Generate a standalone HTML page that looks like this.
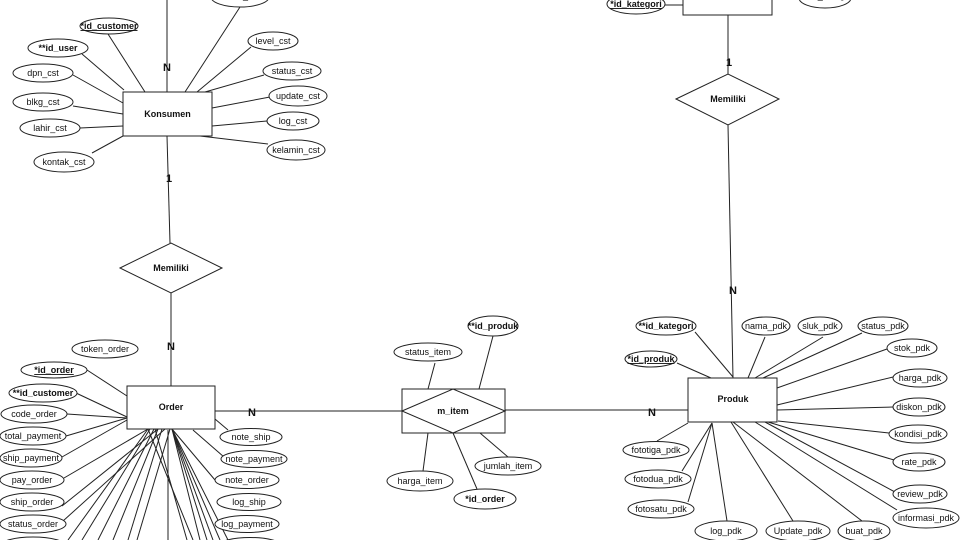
<!DOCTYPE html>
<html><head><meta charset="utf-8"><style>
html,body{margin:0;padding:0;background:#fff;}
svg{display:block;}
text{font-family:"Liberation Sans",Arial,sans-serif;font-size:9px;fill:#111;text-anchor:middle;}
.b{font-weight:bold;}
.u{text-decoration:underline;}
.c{font-size:11px;font-weight:bold;}
line,polyline{stroke:#222;stroke-width:1;fill:none;}
ellipse,rect,polygon{stroke:#222;stroke-width:1;fill:#fff;}
</style></head><body>
<svg width="960" height="540" viewBox="0 0 960 540" xmlns="http://www.w3.org/2000/svg">
<g>
<line x1="167" y1="0" x2="167" y2="92"/>
<line x1="167" y1="136" x2="170" y2="243"/>
<line x1="108" y1="34" x2="145" y2="92"/>
<line x1="82" y1="54" x2="124" y2="90"/>
<line x1="73" y1="75" x2="123" y2="103"/>
<line x1="73" y1="106" x2="123" y2="114"/>
<line x1="80" y1="128" x2="123" y2="126"/>
<line x1="92" y1="153" x2="123" y2="136"/>
<line x1="240" y1="7" x2="185" y2="92"/>
<line x1="251" y1="47" x2="197" y2="92"/>
<line x1="264" y1="75" x2="205" y2="92"/>
<line x1="270" y1="97" x2="212" y2="108"/>
<line x1="267" y1="121" x2="212" y2="126"/>
<line x1="268" y1="144" x2="200" y2="136"/>
<line x1="171" y1="293" x2="171" y2="386"/>
<line x1="215" y1="411" x2="402" y2="411"/>
<line x1="505" y1="410" x2="689" y2="410"/>
<line x1="87" y1="370" x2="127" y2="396"/>
<line x1="76" y1="393" x2="127" y2="417"/>
<line x1="67" y1="414" x2="127" y2="418"/>
<line x1="66" y1="436" x2="127" y2="418"/>
<line x1="62" y1="457" x2="127" y2="420"/>
<line x1="64" y1="478" x2="148" y2="429"/>
<line x1="62" y1="506" x2="158" y2="429"/>
<line x1="63" y1="521" x2="165" y2="429"/>
<line x1="148" y1="429" x2="68" y2="540"/>
<line x1="150" y1="429" x2="82" y2="540"/>
<line x1="154" y1="429" x2="98" y2="540"/>
<line x1="158" y1="429" x2="113" y2="540"/>
<line x1="162" y1="429" x2="128" y2="540"/>
<line x1="170" y1="429" x2="137" y2="540"/>
<line x1="148" y1="429" x2="193" y2="540"/>
<line x1="155" y1="429" x2="187" y2="540"/>
<line x1="168" y1="430" x2="168" y2="540"/>
<line x1="172" y1="429" x2="200" y2="540"/>
<line x1="172" y1="429" x2="207" y2="540"/>
<line x1="172" y1="429" x2="213" y2="540"/>
<line x1="172" y1="429" x2="220" y2="540"/>
<line x1="172" y1="429" x2="215" y2="480"/>
<line x1="172" y1="429" x2="228" y2="540"/>
<line x1="215" y1="419" x2="228" y2="430"/>
<line x1="193" y1="430" x2="224" y2="457"/>
<line x1="435" y1="363" x2="428" y2="389"/>
<line x1="493" y1="336" x2="479" y2="389"/>
<line x1="480" y1="433" x2="508" y2="457"/>
<line x1="428" y1="433" x2="423" y2="471"/>
<line x1="453" y1="433" x2="477" y2="489"/>
<line x1="728" y1="15" x2="728" y2="74"/>
<line x1="728" y1="125" x2="733" y2="378"/>
<line x1="665" y1="5" x2="683" y2="5"/>
<line x1="695" y1="332" x2="733" y2="377"/>
<line x1="677" y1="363" x2="711" y2="378"/>
<line x1="765" y1="337" x2="748" y2="378"/>
<line x1="823" y1="337" x2="755" y2="378"/>
<line x1="862" y1="333" x2="763" y2="378"/>
<line x1="887" y1="349" x2="777" y2="388"/>
<line x1="893" y1="377" x2="777" y2="405"/>
<line x1="893" y1="407" x2="777" y2="410"/>
<line x1="889" y1="433" x2="778" y2="421"/>
<line x1="894" y1="460" x2="768" y2="422"/>
<line x1="895" y1="492" x2="765" y2="422"/>
<line x1="897" y1="510" x2="755" y2="422"/>
<line x1="862" y1="521" x2="733" y2="422"/>
<line x1="793" y1="521" x2="731" y2="422"/>
<line x1="727" y1="521" x2="712" y2="423"/>
<line x1="688" y1="502" x2="712" y2="423"/>
<line x1="682" y1="471" x2="712" y2="423"/>
<line x1="657" y1="441" x2="688" y2="423"/>
</g>

<rect x="123" y="92" width="89" height="44"/>
<text class="b" x="167.5" y="117">Konsumen</text>
<polygon points="120,268 171,243 222,268 171,293"/>
<text class="b" x="171" y="271">Memiliki</text>
<rect x="127" y="386" width="88" height="43"/>
<text class="b" x="171" y="410">Order</text>
<rect x="402" y="389" width="103" height="44"/>
<polygon points="402,411 453,389 505,411 453,433"/>
<text class="b" x="453" y="414">m_item</text>
<rect x="688" y="378" width="89" height="44"/>
<text class="b" x="733" y="402">Produk</text>
<polygon points="676,99 728,74 779,99 728,125"/>
<text class="b" x="728" y="102">Memiliki</text>
<rect x="683" y="-30" width="89" height="45"/>

<text class="c" x="167" y="71">N</text>
<text class="c" x="169" y="182">1</text>
<text class="c" x="171" y="350">N</text>
<text class="c" x="252" y="416">N</text>
<text class="c" x="652" y="416">N</text>
<text class="c" x="733" y="294">N</text>
<text class="c" x="729" y="66">1</text>

<g>
<ellipse cx="240" cy="-3" rx="29" ry="10"/>
<text x="240" y="-1.5">nama_cst</text>
<ellipse cx="109" cy="26" rx="29" ry="8"/><text class="b u" x="109" y="29">*id_customer</text>
<ellipse cx="58" cy="48" rx="30" ry="9"/><text class="b" x="58" y="51">**id_user</text>
<ellipse cx="43" cy="73" rx="30" ry="9"/><text x="43" y="76">dpn_cst</text>
<ellipse cx="43" cy="102" rx="30" ry="9"/><text x="43" y="105">blkg_cst</text>
<ellipse cx="50" cy="128" rx="30" ry="9"/><text x="50" y="131">lahir_cst</text>
<ellipse cx="64" cy="162" rx="30" ry="10"/><text x="64" y="165">kontak_cst</text>
<ellipse cx="273" cy="41" rx="25" ry="9"/><text x="273" y="44">level_cst</text>
<ellipse cx="292" cy="71" rx="29" ry="9"/><text x="292" y="74">status_cst</text>
<ellipse cx="298" cy="96" rx="29" ry="10"/><text x="298" y="99">update_cst</text>
<ellipse cx="293" cy="121" rx="26" ry="9"/><text x="293" y="124">log_cst</text>
<ellipse cx="296" cy="150" rx="29" ry="10"/><text x="296" y="153">kelamin_cst</text>

<ellipse cx="105" cy="349" rx="33" ry="9"/><text x="105" y="352">token_order</text>
<ellipse cx="54" cy="370" rx="33" ry="8"/><text class="b u" x="54" y="373">*id_order</text>
<ellipse cx="43" cy="393" rx="34" ry="9"/><text class="b" x="43" y="396">**id_customer</text>
<ellipse cx="34" cy="414" rx="33" ry="9"/><text x="34" y="417">code_order</text>
<ellipse cx="33" cy="436" rx="33" ry="9"/><text x="33" y="439">total_payment</text>
<ellipse cx="31" cy="458" rx="31" ry="9"/><text x="31" y="461">ship_payment</text>
<ellipse cx="32" cy="480" rx="32" ry="9"/><text x="32" y="483">pay_order</text>
<ellipse cx="32" cy="502" rx="32" ry="9"/><text x="32" y="505">ship_order</text>
<ellipse cx="33" cy="524" rx="33" ry="9"/><text x="33" y="527">status_order</text>
<ellipse cx="33" cy="546" rx="33" ry="9"/>
<ellipse cx="251" cy="437" rx="31" ry="8.5"/><text x="251" y="440">note_ship</text>
<ellipse cx="254" cy="459" rx="33" ry="8.5"/><text x="254" y="462">note_payment</text>
<ellipse cx="247" cy="480" rx="32" ry="8.5"/><text x="247" y="483">note_order</text>
<ellipse cx="249" cy="502" rx="32" ry="8.5"/><text x="249" y="505">log_ship</text>
<ellipse cx="247" cy="524" rx="32" ry="8.5"/><text x="247" y="527">log_payment</text>
<ellipse cx="250" cy="546" rx="32" ry="8.5"/>

<ellipse cx="428" cy="352" rx="34" ry="9"/><text x="428" y="355">status_item</text>
<ellipse cx="493" cy="326" rx="25" ry="10"/><text class="b" x="493" y="329">**id_produk</text>
<ellipse cx="508" cy="466" rx="33" ry="9"/><text x="508" y="469">jumlah_item</text>
<ellipse cx="420" cy="481" rx="33" ry="10"/><text x="420" y="484">harga_item</text>
<ellipse cx="485" cy="499" rx="31" ry="10"/><text class="b" x="485" y="502">*id_order</text>

<ellipse cx="636" cy="4" rx="29" ry="10"/><text class="b u" x="636" y="7">*id_kategori</text>
<ellipse cx="825" cy="-2" rx="26" ry="10"/><text x="825" y="-1.5">nama_kategori</text>

<ellipse cx="666" cy="326" rx="30" ry="9"/><text class="b" x="666" y="329">**id_kategori</text>
<ellipse cx="651" cy="359" rx="26" ry="8"/><text class="b u" x="651" y="362">*id_produk</text>
<ellipse cx="766" cy="326" rx="24" ry="9"/><text x="766" y="329">nama_pdk</text>
<ellipse cx="820" cy="326" rx="22" ry="9"/><text x="820" y="329">sluk_pdk</text>
<ellipse cx="883" cy="326" rx="25" ry="9"/><text x="883" y="329">status_pdk</text>
<ellipse cx="912" cy="348" rx="25" ry="9"/><text x="912" y="351">stok_pdk</text>
<ellipse cx="920" cy="378" rx="27" ry="9"/><text x="920" y="381">harga_pdk</text>
<ellipse cx="919" cy="407" rx="26" ry="9"/><text x="919" y="410">diskon_pdk</text>
<ellipse cx="918" cy="434" rx="29" ry="9"/><text x="918" y="437">kondisi_pdk</text>
<ellipse cx="919" cy="462" rx="26" ry="9"/><text x="919" y="465">rate_pdk</text>
<ellipse cx="920" cy="494" rx="27" ry="9"/><text x="920" y="497">review_pdk</text>
<ellipse cx="926" cy="518" rx="33" ry="10"/><text x="926" y="521">informasi_pdk</text>
<ellipse cx="864" cy="531" rx="26" ry="10"/><text x="864" y="534">buat_pdk</text>
<ellipse cx="798" cy="531" rx="32" ry="10"/><text x="798" y="534">Update_pdk</text>
<ellipse cx="726" cy="531" rx="31" ry="10"/><text x="726" y="534">log_pdk</text>
<ellipse cx="661" cy="509" rx="33" ry="9"/><text x="661" y="512">fotosatu_pdk</text>
<ellipse cx="658" cy="479" rx="33" ry="9"/><text x="658" y="482">fotodua_pdk</text>
<ellipse cx="656" cy="450" rx="33" ry="8.5"/><text x="656" y="453">fototiga_pdk</text>
</g>
</svg>
</body></html>
